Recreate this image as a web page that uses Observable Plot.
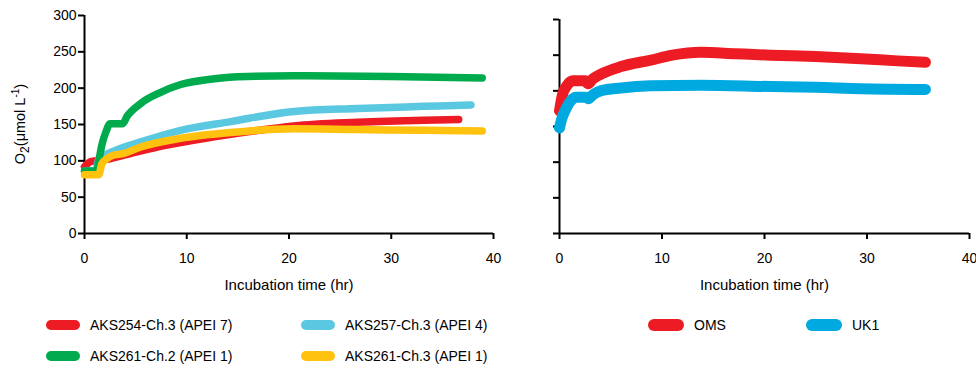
<!DOCTYPE html>
<html><head><meta charset="utf-8">
<script src="https://cdn.jsdelivr.net/npm/d3@7"></script>
<script src="https://cdn.jsdelivr.net/npm/@observablehq/plot@0.6"></script>
<style>
body{margin:0;background:#fff;font-family:"Liberation Sans",Arial,sans-serif;}
#wrap{position:relative;width:976px;height:369px;overflow:hidden}
#left{position:absolute;left:0;top:0}
#right{position:absolute;left:520px;top:0}
.leg{position:absolute;font-size:14px;color:#000;display:flex;align-items:center;white-space:nowrap;height:16px}
.sw{display:inline-block;width:34px;height:10px;border-radius:5px;margin-right:10px}
</style></head><body><div id="wrap"><div id="left"></div><div id="right"></div></div>
<script>
// ---- data ----
const leftNames = ["AKS254-Ch.3 (APEI 7)", "AKS257-Ch.3 (APEI 4)", "AKS261-Ch.2 (APEI 1)", "AKS261-Ch.3 (APEI 1)"];
const leftColors = ["#ED1C24", "#5BC8E1", "#00AB4E", "#FFC20E"];
const rightNames = ["OMS", "UK1"];
const rightColors = ["#ED1C24", "#00A9E0"];

const aks254Time = [0, 0.6, 2.2, 4.5, 7.8, 12.7, 16.5, 20.5, 26.7, 33.2, 36.6];
const aks254O2   = [92, 99, 102, 110, 121, 133, 141, 148, 153, 156, 157];

const aks257Time = [0, 1.1, 1.4, 2.0, 3.5, 5.5, 9.4, 14.3, 20.5, 26.7, 33.2, 37.8];
const aks257O2   = [86, 86, 103, 108, 117, 126, 142, 154, 168, 172, 175, 177];

const aks261c2Time = [0, 1.2, 1.4, 1.7, 2.1, 2.5, 3.7, 4.2, 5.5, 7.4, 9.4, 12.7, 15.9, 20.5, 29.9, 38.9];
const aks261c2O2   = [86, 86, 100, 122, 140, 151, 151, 162, 179, 194, 205, 213, 216, 217, 216, 214];

const aks261c3Time = [0, 1.4, 1.7, 2.2, 2.9, 3.8, 5.5, 9.4, 14.3, 20.5, 26.7, 33.2, 38.9];
const aks261c3O2   = [81, 81, 96, 103, 108, 110, 119, 131, 139, 144, 143, 142, 141];

const omsTime = [0, 0.3, 0.7, 1.3, 2.5, 2.8, 3.2, 4, 6, 8.9, 11, 13.8, 17.2, 20.6, 25, 29.4, 33, 35.7];
const omsO2   = [172, 195, 207, 214, 214, 210, 216, 223, 234, 243, 250, 254, 252, 250, 248, 245, 242, 240];

const uk1Time = [0, 0.2, 0.6, 1.1, 1.6, 2.6, 2.8, 3.3, 4, 6, 8.9, 13.8, 20.6, 25, 29.4, 35.7];
const uk1O2   = [148, 160, 174, 186, 191, 191, 189, 195, 200, 204, 207, 208, 206, 205, 203, 202];

const xTicks = [0, 10, 20, 30, 40];
const yTicks = [0, 50, 100, 150, 200, 250, 300];
const xTitle = "Incubation time (hr)";

// ---- build tables ----
function rows(name, ts, vs) { return ts.map((t, i) => ({name, t, v: vs[i]})); }
const leftData = [
  rows(leftNames[0], aks254Time, aks254O2),
  rows(leftNames[1], aks257Time, aks257O2),
  rows(leftNames[2], aks261c2Time, aks261c2O2),
  rows(leftNames[3], aks261c3Time, aks261c3O2)
];
const rightData = [
  rows(rightNames[0], omsTime, omsO2),
  rows(rightNames[1], uk1Time, uk1O2)
];

function panel(opts, data, colors, showY, sw) {
  return Plot.plot({
    width: opts.width, height: 300,
    marginLeft: opts.ml, marginRight: opts.mr, marginTop: opts.mt, marginBottom: 67,
    x: {domain: [0, 40]}, y: {domain: [0, 300]},
    style: {fontFamily: "'Liberation Sans', Arial, sans-serif", fontSize: "14px", color: "#000", background: "#fff"},
    marks: [
      Plot.axisX({ticks: xTicks, tickSize: 6, tickPadding: 14, strokeWidth: 2, label: null, fontSize: 14}),
      Plot.axisY({ticks: yTicks, tickSize: 6, tickPadding: 2, strokeWidth: 2, label: null, fontSize: 14,
                  tickFormat: showY ? (d => String(d)) : (() => "")}),
      Plot.ruleX([0], {stroke: "#000", strokeWidth: 2}),
      Plot.ruleY([0], {stroke: "#000", strokeWidth: 2}),
      ...data.map((d, i) => Plot.line(d, {x: "t", y: "v", stroke: colors[i], strokeWidth: sw, curve: "monotone-x",
                                          strokeLinecap: "round", strokeLinejoin: "round"})),
      Plot.text([xTitle], {frameAnchor: "bottom", dy: 56, fontSize: 15, fill: "#000"})
    ]
  });
}

const left = panel({width: 520, ml: 84, mr: 27, mt: 15}, leftData, leftColors, true, 7.5);
const right = panel({width: 456, ml: 39, mr: 7, mt: 19}, rightData, rightColors, false, 11);
right.style.overflow = "visible";
document.getElementById("left").appendChild(left);
document.getElementById("right").appendChild(right);

// y-axis title with sub/superscripts
const yt = d3.select(left).append("text")
  .attr("transform", "translate(25,124) rotate(-90)")
  .attr("text-anchor", "middle")
  .attr("font-size", 14.5)
  .attr("fill", "#000");
yt.append("tspan").text("O");
yt.append("tspan").attr("font-size", 12).attr("dy", 4).text("2");
yt.append("tspan").attr("dy", -4).text("(μmol L");
yt.append("tspan").attr("font-size", 10).attr("dy", -6).text("-1");
yt.append("tspan").attr("dy", 6).text(")");

// legends
const wrap = document.getElementById("wrap");
const legendItems = [
  {name: leftNames[0], color: leftColors[0], x: 46, y: 325, w: 34, h: 10},
  {name: leftNames[1], color: leftColors[1], x: 301, y: 325, w: 34, h: 10},
  {name: leftNames[2], color: leftColors[2], x: 46, y: 356, w: 34, h: 10},
  {name: leftNames[3], color: leftColors[3], x: 301, y: 356, w: 34, h: 10},
  {name: rightNames[0], color: rightColors[0], x: 648, y: 325, w: 36, h: 12},
  {name: rightNames[1], color: rightColors[1], x: 806, y: 325, w: 36, h: 12}
];
legendItems.forEach(it => {
  const d = document.createElement("div");
  d.className = "leg";
  d.style.left = it.x + "px";
  d.style.top = (it.y - 8) + "px";
  const s = document.createElement("span");
  s.className = "sw";
  s.style.background = it.color;
  s.style.width = it.w + "px";
  s.style.height = it.h + "px";
  s.style.borderRadius = (it.h / 2) + "px";
  d.appendChild(s);
  d.appendChild(document.createTextNode(it.name));
  wrap.appendChild(d);
});
</script>
</body></html>
